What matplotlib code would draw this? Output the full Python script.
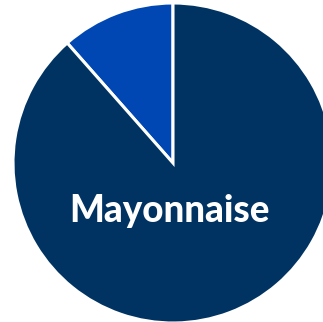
import matplotlib
matplotlib.use("Agg")
import matplotlib.pyplot as plt

# share of each condiment
labels = ["Other", "Mayonnaise"]
shares = [11.5, 88.5]
colors = ["#0047b3", "#003361"]

fig = plt.figure(figsize=(3.23, 3.22), dpi=100)
# pie is bigger than the canvas on the right and bottom
ax = fig.add_axes([13/323, -1/322, 320/323, 320/322])
ax.pie(shares, colors=colors, startangle=90, counterclock=True,
       wedgeprops=dict(edgecolor="white", linewidth=2.2))
ax.set_xlim(-1, 1)
ax.set_ylim(-1, 1)
ax.axis("off")

ax.text(-0.02, -0.3, labels[1], ha="center", va="center", color="white",
        fontsize=26.5, fontweight="black", family="Lato")

fig.savefig("out.png", dpi=100)
